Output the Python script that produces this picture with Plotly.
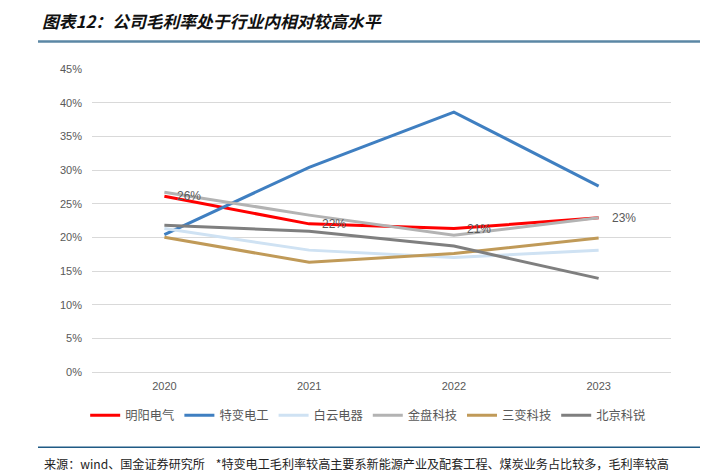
import plotly.graph_objects as go

years = ["2020", "2021", "2022", "2023"]
mingyang = [26.1, 22.0, 21.3, 22.9]
tebian = [20.4, 30.4, 38.6, 27.6]
baiyun = [21.3, 18.1, 17.0, 18.1]
jinpan = [26.7, 23.3, 20.3, 22.9]
sanbian = [20.0, 16.3, 17.6, 19.9]
beijing = [21.8, 20.9, 18.7, 13.9]

series_names = ["明阳电气", "特变电工", "白云电器", "金盘科技", "三变科技", "北京科锐"]
series_values = [mingyang, tebian, baiyun, jinpan, sanbian, beijing]
colors = ["#FF0000", "#3F7FC1", "#CFE2F3", "#B3B3B3", "#C09A58", "#7F7F7F"]

title_text = "图表12：公司毛利率处于行业内相对较高水平"
source_text = "来源：wind、国金证券研究所    *特变电工毛利率较高主要系新能源产业及配套工程、煤炭业务占比较多，毛利率较高"

FONT = "Noto Sans CJK SC, Arial, sans-serif"
NUMFONT = "Arial, Liberation Sans, sans-serif"

fig = go.Figure()
for name, vals, c in zip(series_names, series_values, colors):
    fig.add_trace(go.Scatter(
        x=years, y=vals, name=name, mode="lines",
        line=dict(color=c, width=3),
    ))

# data labels for 明阳电气 (category index positions)
for i, v in enumerate(mingyang):
    fig.add_annotation(
        x=i, y=v, xref="x", yref="y", text=f"{round(v)}%",
        showarrow=False, xanchor="left", yanchor="middle", xshift=11,
        font=dict(family=NUMFONT, size=12, color="#595959"),
    )

W, H = 725, 474
L, R, T, B = 92, 54, 68.5, 102.3
ph = H - T - B
pw = W - L - R

def px_to_paper_y(py):
    return (H - B - py) / ph

def px_to_paper_x(pxv):
    return (pxv - L) / pw

fig.update_layout(
    width=W, height=H,
    margin=dict(l=L, r=R, t=T, b=B),
    plot_bgcolor="white", paper_bgcolor="white",
    font=dict(family=FONT, color="#595959"),
    title=dict(
        text=title_text, xref="container", yref="container",
        x=42 / W, xanchor="left", y=1 - 22 / H, yanchor="middle",
        font=dict(family=FONT, size=16.8, color="#111111", style="italic", weight="bold"),
    ),
    xaxis=dict(
        type="category", range=[-0.5, 3.5],
        showgrid=False, showline=True, linecolor="#D9D9D9", linewidth=1,
        ticks="", tickfont=dict(family=NUMFONT, size=11, color="#595959"),
        ticklabelstandoff=4, zeroline=False,
    ),
    yaxis=dict(
        range=[0, 45], dtick=5, ticksuffix="%",
        showgrid=True, gridcolor="#D9D9D9", gridwidth=1,
        zeroline=False, showline=False,
        tickfont=dict(family=NUMFONT, size=11, color="#595959"),
        ticklabelstandoff=9,
    ),
    legend=dict(
        orientation="h", x=0.477, xanchor="center",
        y=px_to_paper_y(415), yanchor="middle",
        font=dict(family=FONT, size=12.3, color="#595959"),
        itemwidth=30, tracegroupgap=0,
    ),
    showlegend=True,
)

# header & footer rules
fig.add_shape(type="line", xref="paper", yref="paper",
              x0=px_to_paper_x(38), x1=px_to_paper_x(700),
              y0=px_to_paper_y(41), y1=px_to_paper_y(41),
              line=dict(color="#5B87A5", width=2.5))
fig.add_shape(type="line", xref="paper", yref="paper",
              x0=px_to_paper_x(38), x1=px_to_paper_x(700),
              y0=px_to_paper_y(447), y1=px_to_paper_y(447),
              line=dict(color="#1F5A85", width=1.5))

fig.add_annotation(
    xref="paper", yref="paper", x=px_to_paper_x(42), y=px_to_paper_y(463),
    xanchor="left", yanchor="middle", showarrow=False, text=source_text,
    font=dict(family=FONT, size=12.1, color="#222222", weight="normal"),
)

fig.write_html("out.html", config={"displayModeBar": False},
               post_script="document.body.style.margin='0';")
